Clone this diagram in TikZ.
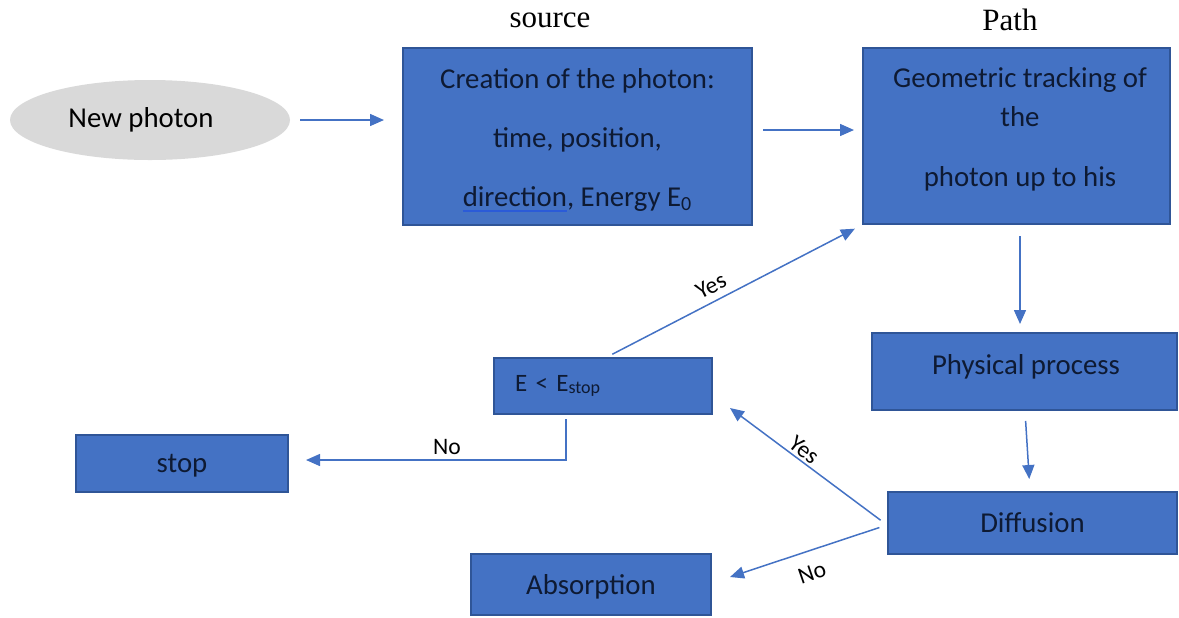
\documentclass[tikz,border=0pt]{standalone}
\usepackage{fontspec}
\setmainfont{Carlito}
\newfontfamily\serifhead{Liberation Serif}
\usetikzlibrary{shapes.geometric,arrows.meta,calc}
\definecolor{boxfill}{HTML}{4472C4}
\definecolor{boxline}{HTML}{2F5597}
\definecolor{arrowc}{HTML}{4472C4}
\definecolor{txtc}{HTML}{0E1A33}
\definecolor{ellfill}{HTML}{D9D9D9}
\definecolor{ulc}{HTML}{2B5BD8}
\newcommand\myul[1]{\setbox0\hbox{#1}\rlap{\textcolor{ulc}{\rule[-3pt]{\wd0}{0.9pt}}}#1}
\tikzset{
  boxst/.style={draw=boxline, line width=1pt, fill=boxfill, text=txtc, font=\fontsize{14.4}{17}\selectfont, inner sep=0pt, align=center},
  conn/.style={draw=arrowc, line width=0.75pt, -{Triangle[length=7pt,width=6pt]}},
  lbl/.style={text=black, font=\fontsize{11.8}{13}\selectfont, inner sep=0pt},
  head/.style={text=black, font=\serifhead\fontsize{15.5}{17}\selectfont, inner sep=0pt},
  boxtxt/.style={text=txtc, align=center, inner sep=0pt},
}
\begin{document}
\begin{tikzpicture}[x=0.5pt,y=-0.5pt]
\useasboundingbox (0,0) rectangle (1179,617);
% nodes
\node[ellipse, fill=ellfill, minimum width=140pt, minimum height=40pt] (newp) at (150,120) {};
\node[boxtxt, text=black, font=\fontsize{14.4}{17}\selectfont] (newptxt) at (141,120) {New photon};
\node[boxst, minimum width=174.5pt, minimum height=88.5pt] (creat) at (577.5,136.5) {};
\node[boxtxt, font=\fontsize{14.4}{29.5}\selectfont] (creattxt) at (577.5,140) {Creation of the photon:\\time, position,\\\myul{direction}, Energy E\textsubscript{0}};
\node[boxst, minimum width=153.5pt, minimum height=88pt] (geo) at (1016.5,136) {};
\node[boxtxt, font=\fontsize{14.4}{19.5}\selectfont] (geotxt) at (1020,129) {Geometric tracking of\\the\\[10.5pt]photon up to his};
\node[boxst, minimum width=152.5pt, minimum height=38.5pt] (phys) at (1024.5,371.5) {};
\node[boxtxt, font=\fontsize{14.4}{17}\selectfont] (phystxt) at (1026,367) {Physical process};
\node[boxst, minimum width=144.5pt, minimum height=31pt] (diff) at (1032.5,523) {Diffusion};
\node[boxst, minimum width=109pt, minimum height=28pt, text width=88pt, align=left, inner xsep=10.5pt, font=\fontsize{12.5}{14}\selectfont] (estop) at (603,386) {E < E{\fontsize{9}{10}\selectfont\raisebox{-1pt}{stop}}};
\node[boxst, minimum width=106pt, minimum height=28.5pt] (stop) at (182,463.5) {};
\node[boxtxt, font=\fontsize{14.4}{17}\selectfont] (stoptxt) at (182,466) {stop};
\node[boxst, minimum width=120pt, minimum height=30.5pt] (absorb) at (591,584.5) {};
\node[boxtxt, font=\fontsize{14.4}{17}\selectfont] (absorbtxt) at (591,587) {Absorption};
% headers
\node[head] (hsrc) at (550,20) {source};
\node[head] (hpath) at (1010,20) {Path};
% free ends
\coordinate (ytip) at (730,408);
\coordinate (ntip) at (730,577);
% connectors
\draw[conn, shorten <=5pt, shorten >=9pt] (newp.east) -- ([yshift=8.25pt]creat.west);
\draw[conn, shorten <=5pt, shorten >=4pt] ([yshift=3.25pt]creat.east) -- ([yshift=3pt]geo.west);
\draw[conn, shorten <=5.5pt, shorten >=4pt] ([xshift=1.75pt]geo.south) -- ([xshift=-2.25pt]phys.north);
\draw[conn, shorten <=5pt, shorten >=6pt] ([xshift=0.25pt]phys.south) -- ([xshift=-1.25pt]diff.north);
\draw[conn, shorten <=4pt] ([yshift=-1pt]diff.west) -- (ytip);
\draw[conn, shorten <=4pt] ([yshift=-1pt]diff.west) -- (ntip);
\draw[conn, shorten <=3pt, shorten >=4pt] ([xshift=2pt]estop.north) -- (geo.south west);
\draw[conn, shorten <=2pt, shorten >=8.5pt] ([xshift=-18.5pt]estop.south) |- ([yshift=1.75pt]stop.east);
% labels
\node[lbl, rotate=27] (lyes1) at (711,286) {Yes};
\node[lbl, rotate=-38] (lyes2) at (804,450) {Yes};
\node[lbl] (lno1) at (447,447) {No};
\node[lbl, rotate=19] (lno2) at (812,573) {No};
\end{tikzpicture}
\end{document}
